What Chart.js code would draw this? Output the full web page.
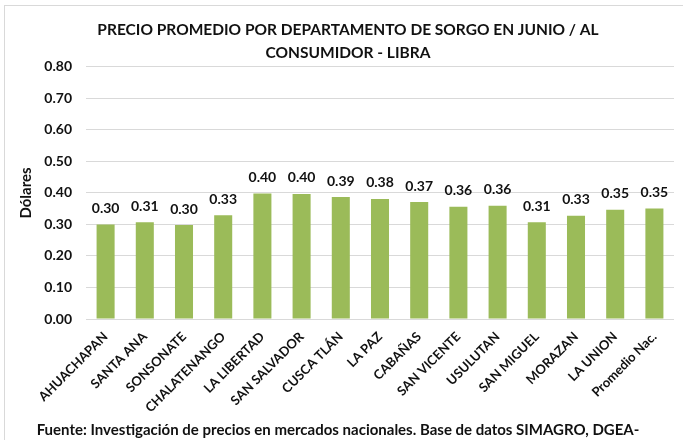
<!DOCTYPE html>
<html>
<head>
<meta charset="utf-8">
<script src="https://cdn.jsdelivr.net/npm/chart.js@4"></script>
<style>
  html, body { margin: 0; padding: 0; background: #fff; overflow: hidden; }
  #frame { position: absolute; left: 4px; top: 5px; width: 720px; height: 470px; border: 1px solid #d9d9d9; }
  canvas { display: block; }
  #fuente { position: absolute; left: 0; top: 420px; width: 676px; text-align: center; font: bold 15px Lato, sans-serif; color: #111; white-space: nowrap; }
</style>
</head>
<body>
<div id="frame"><canvas id="chart" width="686" height="434"></canvas></div>
<div id="fuente"></div>
<script>
const departamentos = ['AHUACHAPAN', 'SANTA ANA', 'SONSONATE', 'CHALATENANGO', 'LA LIBERTAD', 'SAN SALVADOR', 'CUSCA TLÁN', 'LA PAZ', 'CABAÑAS', 'SAN VICENTE', 'USULUTAN', 'SAN MIGUEL', 'MORAZAN', 'LA UNION', 'Promedio Nac.'];
const precios = [0.300, 0.307, 0.298, 0.329, 0.398, 0.397, 0.387, 0.381, 0.371, 0.356, 0.359, 0.307, 0.328, 0.347, 0.351];
const titulo = ['PRECIO PROMEDIO POR DEPARTAMENTO DE SORGO EN JUNIO / AL', 'CONSUMIDOR - LIBRA'];
const fuente = 'Fuente: Investigación de precios en mercados nacionales. Base de datos SIMAGRO, DGEA-';
const ejeY = 'Dólares';

const textColor = '#111';
const barColor = '#9BBB59';
const gridColor = '#d9d9d9';

document.getElementById('fuente').textContent = fuente;

// value labels above each bar
const valueLabels = {
  id: 'valueLabels',
  afterDatasetsDraw(chart) {
    const { ctx } = chart;
    const meta = chart.getDatasetMeta(0);
    ctx.save();
    ctx.font = 'bold 14px Lato';
    ctx.fillStyle = textColor;
    ctx.textAlign = 'center';
    ctx.textBaseline = 'middle';
    meta.data.forEach((bar, i) => {
      ctx.fillText(precios[i].toFixed(2), bar.x, bar.y - 16);
    });
    ctx.restore();
  }
};

function draw() {
  Chart.defaults.font.family = 'Lato';
  Chart.defaults.color = textColor;

  new Chart(document.getElementById('chart'), {
    type: 'bar',
    data: {
      labels: departamentos,
      datasets: [{
        data: precios,
        backgroundColor: barColor,
        borderWidth: 0,
        barPercentage: 0.46,
        categoryPercentage: 1
      }]
    },
    options: {
      responsive: false,
      animation: false,
      layout: { padding: { left: 17, right: 17, top: 0, bottom: 0 } },
      plugins: {
        legend: { display: false },
        tooltip: { enabled: false },
        title: {
          display: true,
          text: titulo,
          color: textColor,
          font: { size: 15.5, weight: 'bold', lineHeight: 1.48 },
          padding: { top: 13, bottom: 2 }
        }
      },
      scales: {
        x: {
          grid: { display: false },
          border: { display: false },
          ticks: {
            autoSkip: false,
            minRotation: 45,
            maxRotation: 45,
            padding: 2,
            color: textColor,
            font: { size: 13, weight: 'bold' }
          },
          afterFit(scale) { scale.height = 121; }
        },
        y: {
          min: 0,
          max: 0.8,
          grid: { color: gridColor, drawTicks: false },
          border: { display: false },
          ticks: {
            stepSize: 0.1,
            padding: 14,
            color: textColor,
            font: { size: 14, weight: 'bold' },
            callback: v => v.toFixed(2)
          },
          title: {
            display: true,
            text: ejeY,
            color: textColor,
            font: { size: 15, weight: 'bold', lineHeight: 1.2 },
            padding: { top: -5, bottom: 0 }
          },
          afterFit(scale) { scale.width = 64; }
        }
      }
    },
    plugins: [valueLabels]
  });
}

document.fonts.load('bold 14px Lato').then(draw, draw);
</script>
</body>
</html>
